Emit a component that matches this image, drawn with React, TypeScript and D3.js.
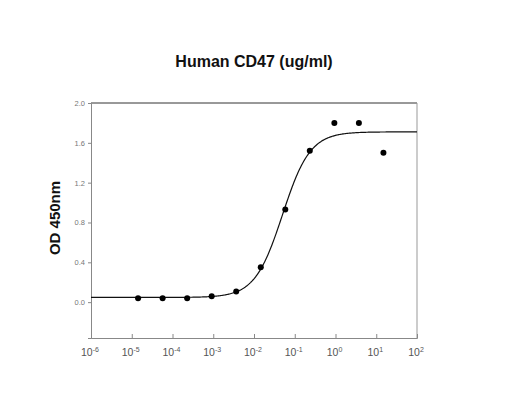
import React, { useEffect, useRef } from "react";
import * as d3 from "d3";

// concentrations in ug/ml (4-fold dilution series)
const concentrations = [
  15, 3.75, 0.9375, 0.234, 0.0586, 0.01465, 0.00366, 0.000916, 0.000229, 0.0000572, 0.0000143,
];
const odValues = [1.5, 1.8, 1.8, 1.52, 0.93, 0.35, 0.107, 0.06, 0.04, 0.04, 0.04];

const yTicks = [0.0, 0.4, 0.8, 1.2, 1.6, 2.0];
const xExponents = [-6, -5, -4, -3, -2, -1, 0, 1, 2];

// fitted 4-parameter logistic curve
const fitBottom = 0.047;
const fitTop = 1.71;
const fitLogEC50 = -1.3;
const fitHill = 1.28;

const W = 517;
const H = 405;

const App = () => {
  const ref = useRef<SVGSVGElement>(null);

  useEffect(() => {
    const svg = d3.select(ref.current);
    svg.selectAll("*").remove();

    const margin = { top: 103, right: 100, bottom: 67, left: 91 };

    const x = d3
      .scaleLog()
      .domain([1e-6, 1e2])
      .range([margin.left, W - margin.right]);

    const y = d3
      .scaleLinear()
      .domain([-0.36, 2.0])
      .range([H - margin.bottom, margin.top]);

    svg.append("rect").attr("width", W).attr("height", H).attr("fill", "#fff");

    // frame
    const [x0, x1] = x.range();
    const [yb, yt] = y.range();
    svg
      .append("line")
      .attr("x1", x0).attr("x2", x1).attr("y1", yt).attr("y2", yt)
      .attr("stroke", "#333").attr("stroke-width", 1);
    svg
      .append("line")
      .attr("x1", x1).attr("x2", x1).attr("y1", yt).attr("y2", yb)
      .attr("stroke", "#999").attr("stroke-width", 1);

    // y axis
    const yAxis = svg
      .append("g")
      .attr("transform", `translate(${x0},0)`)
      .call(
        d3.axisLeft(y).tickValues(yTicks).tickSize(3).tickPadding(3).tickFormat(d3.format(".1f"))
      );
    yAxis.select(".domain").attr("stroke", "#888");
    yAxis.selectAll(".tick line").attr("stroke", "#888");
    yAxis
      .selectAll(".tick text")
      .attr("fill", "#777")
      .attr("font-family", "Liberation Sans, Arial, sans-serif")
      .attr("font-size", 7.5);

    // x axis (ticks pointing inward)
    const xAxis = svg
      .append("g")
      .attr("transform", `translate(0,${yb})`)
      .call(
        d3.axisTop(x).tickValues(xExponents.map((e) => Math.pow(10, e))).tickSize(4).tickFormat(() => "")
      );
    xAxis.select(".domain").attr("stroke", "#888");
    xAxis.selectAll(".tick line").attr("stroke", "#888");

    const labels = svg
      .append("g")
      .attr("font-family", "Liberation Sans, Arial, sans-serif")
      .attr("fill", "#555");
    xExponents.forEach((e) => {
      const t = labels
        .append("text")
        .attr("x", x(Math.pow(10, e)) - 1)
        .attr("y", yb + 18)
        .attr("text-anchor", "middle")
        .attr("font-size", 10.5);
      t.append("tspan").text("10");
      t.append("tspan").attr("font-size", 7).attr("dy", -4.5).text(String(e));
    });

    // fitted curve
    const logistic = (c: number) =>
      fitBottom + (fitTop - fitBottom) / (1 + Math.pow(10, (fitLogEC50 - Math.log10(c)) * fitHill));
    const curveX = d3.range(-6, 2.001, 0.02).map((l) => Math.pow(10, l));
    svg
      .append("path")
      .datum(curveX)
      .attr("fill", "none")
      .attr("stroke", "#111")
      .attr("stroke-width", 1.2)
      .attr(
        "d",
        d3
          .line<number>()
          .x((c) => x(c))
          .y((c) => y(logistic(c)))
      );

    // data points
    svg
      .selectAll("circle.pt")
      .data(concentrations.map((c, i) => ({ c, v: odValues[i] })))
      .enter()
      .append("circle")
      .attr("class", "pt")
      .attr("cx", (d) => x(d.c))
      .attr("cy", (d) => y(d.v))
      .attr("r", 3)
      .attr("fill", "#000");

    // title
    svg
      .append("text")
      .attr("x", 254)
      .attr("y", 67)
      .attr("text-anchor", "middle")
      .attr("font-family", "Liberation Sans, Arial, sans-serif")
      .attr("font-weight", "bold")
      .attr("font-size", 16)
      .attr("fill", "#111")
      .text("Human CD47 (ug/ml)");

    // y title
    svg
      .append("text")
      .attr("transform", `translate(60,218) rotate(-90)`)
      .attr("text-anchor", "middle")
      .attr("font-family", "Liberation Sans, Arial, sans-serif")
      .attr("font-weight", "bold")
      .attr("font-size", 15)
      .attr("fill", "#111")
      .text("OD 450nm");
  }, []);

  return (
    <svg
      ref={ref}
      width={W}
      height={H}
      style={{ position: "absolute", left: 0, top: 0, display: "block" }}
    />
  );
};

export default App;
